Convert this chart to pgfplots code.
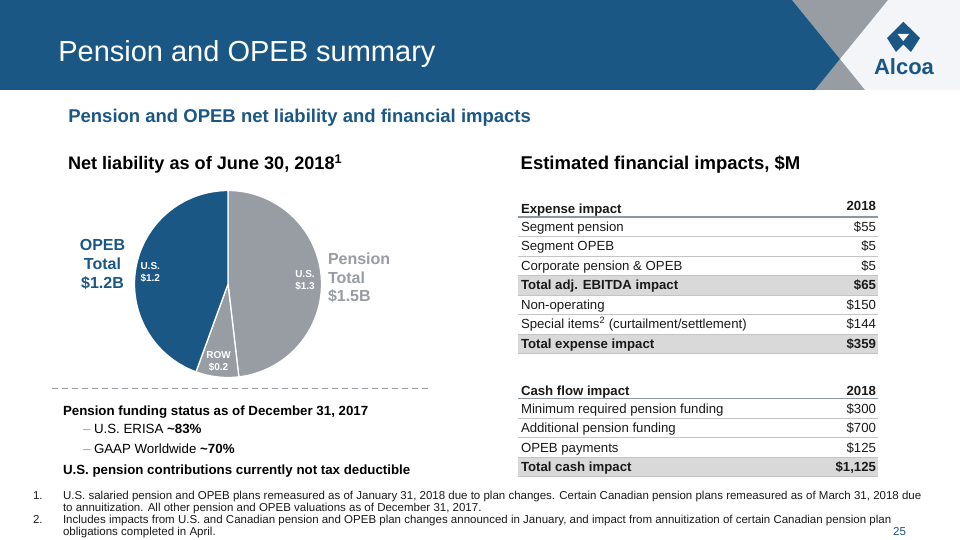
\documentclass[border=0pt]{standalone}
\usepackage{pgfplots}
\pgfplotsset{compat=1.18}
\usepackage{fontspec}
\setmainfont{Liberation Sans}
\definecolor{blueA}{HTML}{1B5785}
\definecolor{grayP}{HTML}{979DA3}
\definecolor{lightbg}{HTML}{F3F5F8}
\definecolor{shadeg}{HTML}{D9D9D9}
\definecolor{rowl}{HTML}{C4C4C4}
\definecolor{headl}{HTML}{8E969E}
\definecolor{txt}{HTML}{1A1A1A}
\newcommand\fs[1]{\fontsize{#1bp}{#1bp}\selectfont}
% pie values ($B)
\def\vUSP{1.3}\def\vROW{0.2}\def\vOPEB{1.2}
\pgfmathsetmacro\tot{\vUSP+\vROW+\vOPEB}
\pgfmathsetmacro\aA{90}
\pgfmathsetmacro\aB{90-360*\vUSP/\tot}
\pgfmathsetmacro\aC{\aB-360*\vROW/\tot}
\pgfmathsetmacro\aD{\aC-360*\vOPEB/\tot}
\begin{document}
\begin{tikzpicture}[x=1bp,y=-1bp,t/.style={inner sep=0pt,outer sep=0pt,text=txt}]
\path[use as bounding box] (0,0) rectangle (960,540);
\fill[white] (0,0) rectangle (960,540);
% header
\fill[blueA] (0,0) rectangle (960,90);
\fill[grayP] (792,0) -- (888,0) -- (840,59) -- cycle;
\fill[grayP] (840,59) -- (815,90) -- (865,90) -- cycle;
\fill[lightbg] (888,0) -- (960,0) -- (960,90) -- (865,90) -- (840,59) -- cycle;
\fill[blueA] (903.3,21.7) -- (920,38) -- (911,52) -- (903.3,44.5) -- (896,52) -- (887,38) -- cycle;
\fill[white] (897.5,34) -- (909,34) -- (903.3,41) -- cycle;
\node[t,anchor=base,text=blueA] at (904,75) {\fs{22}\bfseries Alcoa};
\node[t,anchor=base west,text=white] at (58.3,61.7) {\fs{29}Pension and OPEB summary};
% subtitle and headings
\node[t,anchor=base west,text=blueA] at (68.3,122.7) {\fs{18.5}\bfseries Pension and OPEB net liability and financial impacts};
\node[t,anchor=base west,text=black] at (68,169.3) {\fs{18.1}\bfseries Net liability as of June 30, 2018\textsuperscript{1}};
\node[t,anchor=base west,text=black] at (520.7,169.3) {\fs{18.5}\bfseries Estimated financial impacts, \$M};
% pie
\coordinate (pc) at (228,284);
\begin{axis}[at={(pc)},anchor=center,width=187bp,height=187bp,scale only axis,
  hide axis,xmin=-1,xmax=1,ymin=-1,ymax=1,clip=false]
\addplot[fill=grayP,draw=white,line width=1.3bp,domain=\aB:\aA,samples=90] ({cos(x)},{sin(x)}) -- (axis cs:0,0) -- cycle;
\addplot[fill=grayP,draw=white,line width=1.3bp,domain=\aC:\aB,samples=20] ({cos(x)},{sin(x)}) -- (axis cs:0,0) -- cycle;
\addplot[fill=blueA,draw=white,line width=1.3bp,domain=\aD:\aC,samples=90] ({cos(x)},{sin(x)}) -- (axis cs:0,0) -- cycle;
\end{axis}
\begin{scope}[every node/.style={t,text=white,font=\fs{10}\bfseries}]
\node[anchor=base west] at (140.5,269.3) {U.S.};
\node[anchor=base west] at (140.5,281.7) {\$1.2};
\node[anchor=base] at (305,277.7) {U.S.};
\node[anchor=base] at (305,290) {\$1.3};
\node[anchor=base] at (218.5,359) {ROW};
\node[anchor=base] at (218.5,370.7) {\$0.2};
\end{scope}
\begin{scope}[every node/.style={t,text=blueA,font=\fs{16}\bfseries}]
\node[anchor=base] at (102.5,251) {OPEB};
\node[anchor=base] at (102.5,270) {Total};
\node[anchor=base] at (102.5,289) {\$1.2B};
\end{scope}
\begin{scope}[every node/.style={t,text=grayP,font=\fs{16}\bfseries}]
\node[anchor=base west] at (328,265) {Pension};
\node[anchor=base west] at (328,283.5) {Total};
\node[anchor=base west] at (328,302) {\$1.5B};
\end{scope}
% dashed separator
\draw[grayP,line width=1bp,dash pattern=on 6bp off 4bp] (52,388) -- (428,388);
% left text block
\node[t,anchor=base west,text=black] at (63,415) {\fs{13.3}\bfseries Pension funding status as of December 31, 2017};
\node[t,anchor=base west,text=grayP] at (83,433.3) {\fs{13.3}\textendash};
\node[t,anchor=base west,text=black] at (94,433.3) {\fs{13.3}U.S. ERISA \textbf{\textasciitilde 83\%}};
\node[t,anchor=base west,text=grayP] at (83,453.3) {\fs{13.3}\textendash};
\node[t,anchor=base west,text=black] at (94,453.3) {\fs{13.3}GAAP Worldwide \textbf{\textasciitilde 70\%}};
\node[t,anchor=base west,text=black] at (63,474) {\fs{13.3}\bfseries U.S. pension contributions currently not tax deductible};
% expense table
\fill[shadeg] (518,275.5) rectangle (878,295);
\fill[shadeg] (518,334) rectangle (878,353.5);
\foreach \y in {236.5,256,275.5,295,314.5,334,353.5} \draw[rowl,line width=0.8bp] (518,\y) -- (878,\y);
\draw[headl,line width=1.6bp] (518,217) -- (878,217);
\begin{scope}[every node/.style={t,font=\fs{13.2}}]
\node[anchor=base west] at (521,213.3) {\bfseries Expense impact};
\node[anchor=base east] at (876,211) {\bfseries 2018};
\node[anchor=base west] at (521,231.5) {Segment pension};
\node[anchor=base east] at (876,231.5) {\$55};
\node[anchor=base west] at (521,251) {Segment OPEB};
\node[anchor=base east] at (876,251) {\$5};
\node[anchor=base west] at (521,270.5) {Corporate pension \& OPEB};
\node[anchor=base east] at (876,270.5) {\$5};
\node[anchor=base west] at (521,290) {\bfseries Total adj. EBITDA impact};
\node[anchor=base east] at (876,290) {\bfseries \$65};
\node[anchor=base west] at (521,309.5) {Non-operating};
\node[anchor=base east] at (876,309.5) {\$150};
\node[anchor=base west] at (521,329) {Special items\textsuperscript{2} (curtailment/settlement)};
\node[anchor=base east] at (876,329) {\$144};
\node[anchor=base west] at (521,348.5) {\bfseries Total expense impact};
\node[anchor=base east] at (876,348.5) {\bfseries \$359};
\end{scope}
% cash table
\fill[shadeg] (518,457) rectangle (878,476.5);
\foreach \y in {418,437.5,457,476.5} \draw[rowl,line width=0.8bp] (518,\y) -- (878,\y);
\draw[headl,line width=1.6bp] (518,398.5) -- (878,398.5);
\begin{scope}[every node/.style={t,font=\fs{13.2}}]
\node[anchor=base west] at (521,395) {\bfseries Cash flow impact};
\node[anchor=base east] at (876,395) {\bfseries 2018};
\node[anchor=base west] at (521,413) {Minimum required pension funding};
\node[anchor=base east] at (876,413) {\$300};
\node[anchor=base west] at (521,432.5) {Additional pension funding};
\node[anchor=base east] at (876,432.5) {\$700};
\node[anchor=base west] at (521,452) {OPEB payments};
\node[anchor=base east] at (876,452) {\$125};
\node[anchor=base west] at (521,471.5) {\bfseries Total cash impact};
\node[anchor=base east] at (876,471.5) {\bfseries \$1,125};
\end{scope}
% footnotes
\begin{scope}[every node/.style={t,font=\fs{11.5}}]
\node[anchor=base west] at (33,499) {1.};
\node[anchor=base west] at (63,499) {U.S. salaried pension and OPEB plans remeasured as of January 31, 2018 due to plan changes. Certain Canadian pension plans remeasured as of March 31, 2018 due};
\node[anchor=base west] at (63,511.3) {to annuitization. All other pension and OPEB valuations as of December 31, 2017.};
\node[anchor=base west] at (33,523.6) {2.};
\node[anchor=base west] at (63,523.6) {Includes impacts from U.S. and Canadian pension and OPEB plan changes announced in January, and impact from annuitization of certain Canadian pension plan};
\node[anchor=base west] at (63,535.9) {obligations completed in April.};
\node[anchor=base east,text=blueA] at (906,535.9) {25};
\end{scope}
\end{tikzpicture}
\end{document}
